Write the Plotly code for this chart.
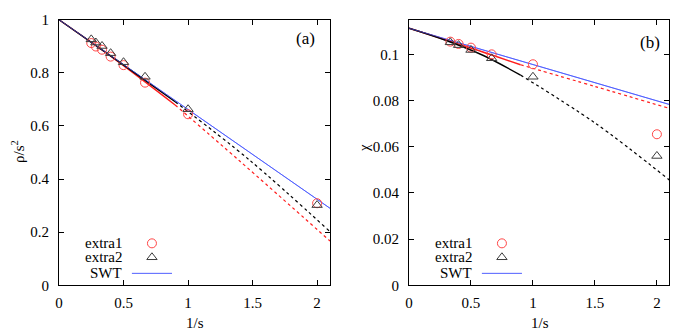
import plotly.graph_objects as go

# ---------------- data ----------------
# panel (a)
a_x = [0.25, 0.2857, 0.3333, 0.4, 0.5, 0.6667, 1.0, 2.0]
a_extra1 = [0.912, 0.899, 0.887, 0.861, 0.829, 0.763, 0.644, 0.309]
a_extra2 = [0.926, 0.914, 0.901, 0.874, 0.840, 0.785, 0.663, 0.302]
a_swt_x = [0.0, 2.1]
a_swt_y = [1.0, 0.290]
a_black_solid_x = [0.0, 0.45, 0.9]
a_black_solid_y = [1.0, 0.847, 0.691]
a_black_dot_x = [0.9, 1.475, 2.1]
a_black_dot_y = [0.691, 0.472, 0.202]
a_red_solid_x = [0.0, 0.45, 0.9]
a_red_solid_y = [1.0, 0.845, 0.679]
a_red_dot_x = [0.9, 1.4, 2.1]
a_red_dot_y = [0.679, 0.468, 0.167]

# panel (b)
b_x = [0.3333, 0.4, 0.5, 0.6667, 1.0, 2.0]
b_extra1 = [0.1055, 0.1045, 0.1029, 0.1000, 0.0957, 0.0654]
b_extra2 = [0.1052, 0.1040, 0.1019, 0.0983, 0.0903, 0.0560]
b_swt_x = [0.0, 2.1]
b_swt_y = [0.1113, 0.0783]
b_black_solid_x = [0.0, 0.3, 0.6, 0.9]
b_black_solid_y = [0.1113, 0.1060, 0.0995, 0.0910]
b_black_dot_x = [0.9, 1.5, 2.1]
b_black_dot_y = [0.0910, 0.0703, 0.0456]
b_red_solid_x = [0.0, 0.45, 0.9]
b_red_solid_y = [0.1113, 0.1036, 0.0955]
b_red_dot_x = [0.9, 1.5, 2.1]
b_red_dot_y = [0.0955, 0.0861, 0.0766]

x_ticks = [0, 0.5, 1, 1.5, 2]
x_ticktext = ["0", "0.5", "1", "1.5", "2"]
a_yticks = [0, 0.2, 0.4, 0.6, 0.8, 1]
a_yticktext = ["0", "0.2", "0.4", "0.6", "0.8", "1"]
b_yticks = [0, 0.02, 0.04, 0.06, 0.08, 0.1]
b_yticktext = ["0", "0.02", "0.04", "0.06", "0.08", "0.1"]

legend_labels = ["extra1", "extra2", "SWT"]

# ---------------- style ----------------
FONT = "Liberation Serif"
RED = "rgb(255,30,30)"
RED_MK = "rgb(255,70,70)"
BLACK = "black"
GRAY_MK = "rgb(60,60,60)"
BLUE = "rgb(80,95,255)"

fig = go.Figure()


def add_panel(xa, ya, xs, e1, e2, swx, swy, bsx, bsy, bdx, bdy, rsx, rsy, rdx, rdy):
    fig.add_trace(go.Scatter(x=swx, y=swy, mode="lines", line=dict(color=BLUE, width=1),
                             xaxis=xa, yaxis=ya, showlegend=False))
    fig.add_trace(go.Scatter(x=rdx, y=rdy, mode="lines", line=dict(color=RED, width=1.2, dash="dot", shape="spline"),
                             xaxis=xa, yaxis=ya, showlegend=False))
    fig.add_trace(go.Scatter(x=bdx, y=bdy, mode="lines", line=dict(color=BLACK, width=1.2, dash="dot", shape="spline"),
                             xaxis=xa, yaxis=ya, showlegend=False))
    fig.add_trace(go.Scatter(x=rsx, y=rsy, mode="lines", line=dict(color=RED, width=1.4, shape="spline"),
                             xaxis=xa, yaxis=ya, showlegend=False))
    fig.add_trace(go.Scatter(x=bsx, y=bsy, mode="lines", line=dict(color=BLACK, width=1.4, shape="spline"),
                             xaxis=xa, yaxis=ya, showlegend=False))
    fig.add_trace(go.Scatter(x=swx, y=swy, mode="lines", line=dict(color=BLUE, width=1),
                             xaxis=xa, yaxis=ya, showlegend=False, opacity=0.6))
    fig.add_trace(go.Scatter(x=xs, y=e1, mode="markers",
                             marker=dict(symbol="circle-open", size=9, color=RED_MK, line=dict(width=1)),
                             xaxis=xa, yaxis=ya, showlegend=False))
    fig.add_trace(go.Scatter(x=xs, y=e2, mode="markers",
                             marker=dict(symbol="triangle-up-open", size=9, color=GRAY_MK, line=dict(width=1)),
                             xaxis=xa, yaxis=ya, showlegend=False))


add_panel("x", "y", a_x, a_extra1, a_extra2, a_swt_x, a_swt_y,
          a_black_solid_x, a_black_solid_y, a_black_dot_x, a_black_dot_y,
          a_red_solid_x, a_red_solid_y, a_red_dot_x, a_red_dot_y)
add_panel("x2", "y2", b_x, b_extra1, b_extra2, b_swt_x, b_swt_y,
          b_black_solid_x, b_black_solid_y, b_black_dot_x, b_black_dot_y,
          b_red_solid_x, b_red_solid_y, b_red_dot_x, b_red_dot_y)

# legend samples drawn on hidden overlay axes (panel-fraction coordinates)
leg_rows = [0.158, 0.1055, 0.045]
for xa, ya, mx, lx0, lx1 in [("x3", "y3", 0.343, 0.269, 0.417), ("x4", "y4", 0.357, 0.280, 0.434)]:
    fig.add_trace(go.Scatter(x=[mx], y=[leg_rows[0]], mode="markers",
                             marker=dict(symbol="circle-open", size=9, color=RED_MK, line=dict(width=1)),
                             xaxis=xa, yaxis=ya, showlegend=False))
    fig.add_trace(go.Scatter(x=[mx], y=[leg_rows[1]], mode="markers",
                             marker=dict(symbol="triangle-up-open", size=9, color=GRAY_MK, line=dict(width=1)),
                             xaxis=xa, yaxis=ya, showlegend=False))
    fig.add_trace(go.Scatter(x=[lx0, lx1], y=[leg_rows[2], leg_rows[2]], mode="lines",
                             line=dict(color=BLUE, width=1), xaxis=xa, yaxis=ya, showlegend=False))

W, H = 697, 334
dom_a = [59 / W, 330 / W]
dom_b = [409 / W, 669.3 / W]
dom_y = [(H - 285.3) / H, (H - 19.7) / H]

axis_common = dict(showline=True, linecolor="black", linewidth=1, mirror="allticks",
                   ticks="inside", ticklen=5, tickcolor="black", showgrid=False, zeroline=False,
                   automargin=False,
                   tickfont=dict(family=FONT, size=15, color="black"))

fig.update_layout(
    template="none",
    width=W, height=H, margin=dict(l=0, r=0, t=0, b=0, pad=0),
    paper_bgcolor="white", plot_bgcolor="white", showlegend=False,
    xaxis=dict(domain=dom_a, range=[0, 2.1], tickvals=x_ticks, ticktext=x_ticktext,
               anchor="y", ticklabelstandoff=4, **axis_common),
    yaxis=dict(domain=dom_y, range=[0, 1], tickvals=a_yticks, ticktext=a_yticktext,
               anchor="x", ticklabelstandoff=6, **axis_common),
    xaxis2=dict(domain=dom_b, range=[0, 2.1], tickvals=x_ticks, ticktext=x_ticktext,
                anchor="y2", ticklabelstandoff=4, **axis_common),
    yaxis2=dict(domain=dom_y, range=[0, 0.115], tickvals=b_yticks, ticktext=b_yticktext,
                anchor="x2", ticklabelstandoff=6, **axis_common),
    xaxis3=dict(overlaying="x", range=[0, 1], visible=False, anchor="y3", automargin=False),
    yaxis3=dict(overlaying="y", range=[0, 1], visible=False, anchor="x3", automargin=False),
    xaxis4=dict(overlaying="x2", range=[0, 1], visible=False, anchor="y4", automargin=False),
    yaxis4=dict(overlaying="y2", range=[0, 1], visible=False, anchor="x4", automargin=False),
)

ann = []
tf = dict(family=FONT, size=15, color="black")
c = dict(xref="paper", yref="paper", showarrow=False, xanchor="center", yanchor="middle")
# panel labels
ann.append(dict(text="(a)", x=305 / W, y=(H - 38) / H, font=dict(family=FONT, size=17, color="black"), **c))
ann.append(dict(text="(b)", x=650 / W, y=(H - 42) / H, font=dict(family=FONT, size=17, color="black"), **c))
# axis titles
ann.append(dict(text="1/s", x=195 / W, y=(H - 323) / H, font=tf, **c))
ann.append(dict(text="1/s", x=540 / W, y=(H - 323) / H, font=tf, **c))
ann.append(dict(text="ρ/s<sup>2</sup>", x=18 / W, y=(H - 152) / H, textangle=-90, font=tf, **c))
ann.append(dict(text="χ", x=364 / W, y=(H - 148) / H, textangle=-90, font=tf, **c))
# legend texts
for xr, yr, tx in [("x3", "y3", 0.240), ("x4", "y4", 0.248)]:
    for lab, yy in zip(legend_labels, leg_rows):
        ann.append(dict(text=lab, x=tx, y=yy, xref=xr, yref=yr, xanchor="right", yanchor="middle",
                        showarrow=False, font=tf))
fig.update_layout(annotations=ann)

fig.write_html("out.html", config={"displayModeBar": False},
               post_script="document.body.style.margin='0';")
